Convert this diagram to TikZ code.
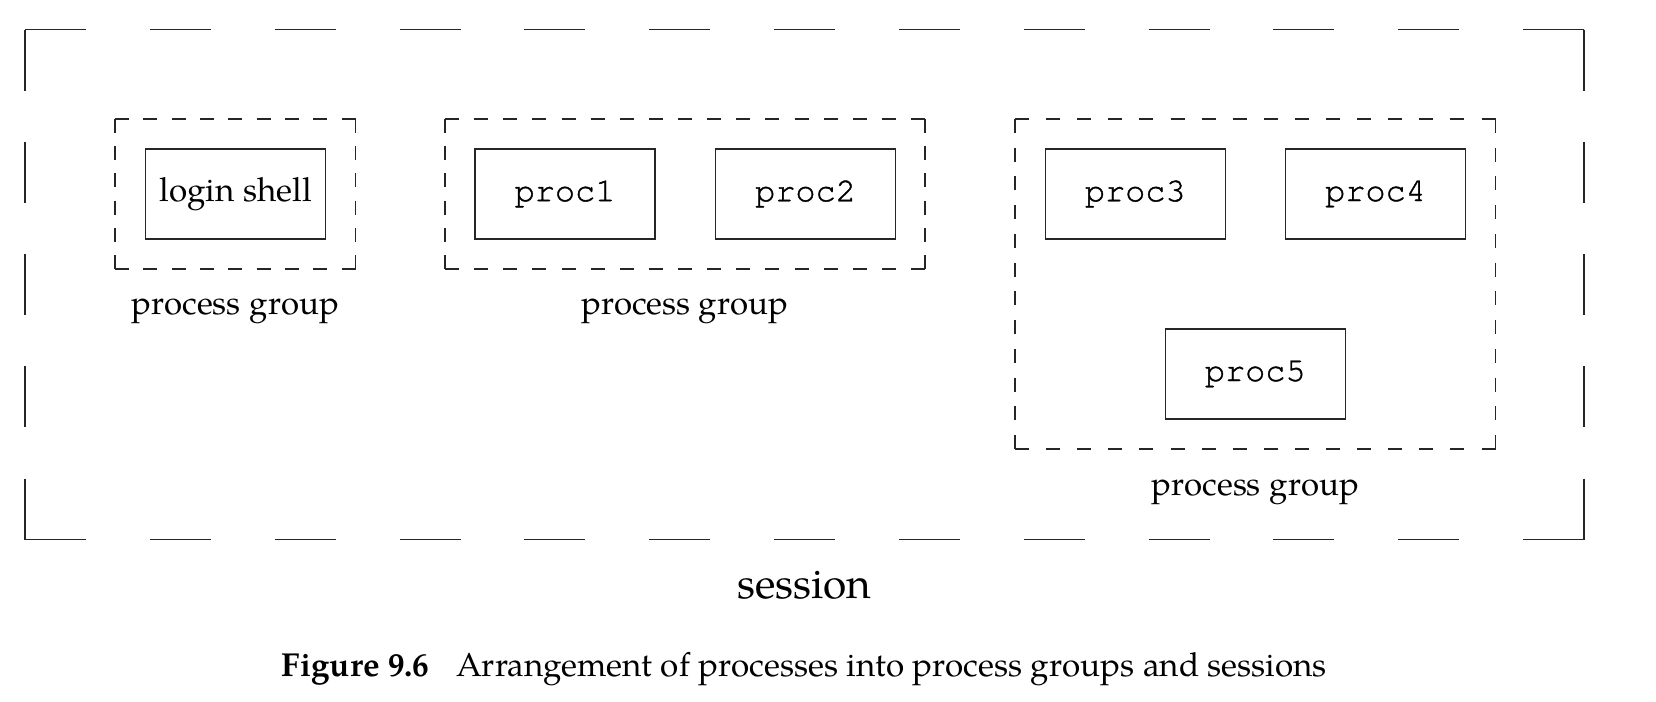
\documentclass[tikz,border=0pt]{standalone}
\usepackage{fontspec}
\setmainfont{TeX Gyre Pagella}
\setmonofont[FakeBold=1.2]{TeX Gyre Cursor}
% dashed rectangle: each side starts and ends with a dash
% #1,#2 top-left  #3,#4 bottom-right  #5 dashes horizontally  #6 dashes vertically  #7 dash length (px)
\newcommand\dseg[5]{%
  \pgfmathsetmacro\dsLen{abs((#3)-(#1))+abs((#4)-(#2))}%
  \pgfmathsetmacro\dsOnPt{#5*0.5}%
  \pgfmathsetmacro\dsGapPt{(\dsLen-#5*\dsN)/(\dsN-1)*0.5}%
  \draw[grpline, dash pattern=on \dsOnPt pt off \dsGapPt pt] (#1,#2) -- (#3,#4);}
\newcommand\drect[7]{%
  \def\dsN{#5}\dseg{#1}{#2}{#3}{#2}{#7}\dseg{#1}{#4}{#3}{#4}{#7}%
  \def\dsN{#6}\dseg{#1}{#2}{#1}{#4}{#7}\dseg{#3}{#2}{#3}{#4}{#7}}
\begin{document}
\begin{tikzpicture}[x=0.5pt,y=-0.5pt,
  grpline/.style={line width=0.6pt, black!85},
  procbox/.style={draw=black!85, line width=0.6pt, minimum width=90pt, minimum height=45pt,
    inner sep=0pt, font=\fontsize{16.8}{19}\ttfamily},
  shellbox/.style={procbox, font=\fontsize{16.6}{19}\selectfont},
  lbl/.style={font=\fontsize{16.5}{19}\selectfont, inner sep=0pt, anchor=base},
  sesslbl/.style={font=\fontsize{21.2}{25}\selectfont, inner sep=0pt, anchor=base},
  caplbl/.style={font=\fontsize{16.6}{19}\selectfont, inner sep=0pt, anchor=base}]
\useasboundingbox (0,0) rectangle (1656,702);
% session
\drect{25}{29.5}{1584}{539.5}{13}{5}{61}
% process groups
\drect{115}{119}{355.5}{269}{9}{6}{14}
\drect{445}{119}{925}{269}{17}{6}{14}
\drect{1015}{119}{1495.5}{449}{16}{12}{14}
% processes
\node[shellbox] (login) at (235.75,194) {login shell};
\node[procbox] (p1) at (565,194) {proc1};
\node[procbox] (p2) at (805.5,194) {proc2};
\node[procbox] (p3) at (1135.25,194) {proc3};
\node[procbox] (p4) at (1375.5,194) {proc4};
\node[procbox] (p5) at (1255.25,374) {proc5};
% labels
\node[lbl] (g1) at (235.25,314) {process group};
\node[lbl] (g2) at (685,314) {process group};
\node[lbl] (g3) at (1255.25,495) {process group};
\node[sesslbl] (sess) at (804.5,598) {session};
\node[caplbl] (cap) at (804.5,676) {\textbf{Figure 9.6}\hspace{0.8em}Arrangement of processes into process groups and sessions};
\end{tikzpicture}
\end{document}
